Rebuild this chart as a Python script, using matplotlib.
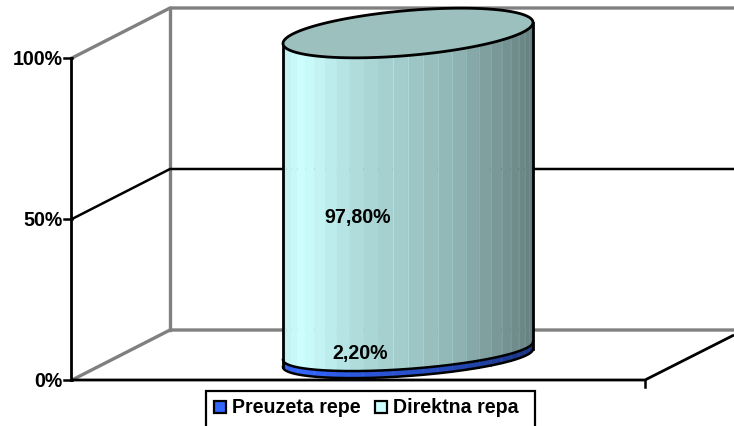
import numpy as np
import matplotlib
matplotlib.use("Agg")
import matplotlib.pyplot as plt
from matplotlib.colors import to_rgb
from matplotlib.patches import Rectangle

series_names = ["Preuzeta repe", "Direktna repa"]
series_values = [2.2, 97.8]
value_labels = ["2,20%", "97,80%"]
tick_values = [0, 50, 100]
tick_labels = ["0%", "50%", "100%"]
side_colors = ["#3366FF", "#CCFFFF"]
top_color = "#9CC0BE"

plt.rcParams["font.family"] = ["Liberation Sans", "DejaVu Sans"]
fig = plt.figure(figsize=(7.34, 4.26), dpi=100)
ax = fig.add_axes([0, 0, 1, 1])
ax.set_xlim(0, 734)
ax.set_ylim(426, 0)
ax.axis("off")

FS = 14.1
GRAY = "#808080"
front_x, back_x, right_x = 72, 170, 734
front_end = 645
y_front0, y_front100 = 380, 58
depth = 50


def fy(v):
    return y_front0 + (y_front100 - y_front0) * v / 100


def bold_text(x, y, s, **kw):
    return ax.text(x, y, s, va="center", fontsize=FS, fontweight="bold", color="black", **kw)


# back walls and gridlines
ax.plot([front_x, back_x, right_x], [fy(100), fy(100) - depth, fy(100) - depth], color=GRAY, lw=2.4)
ax.plot([back_x, back_x], [fy(100) - depth, fy(0) - depth], color=GRAY, lw=2.4)
ax.plot([right_x, back_x, front_x], [fy(0) - depth, fy(0) - depth, fy(0)], color=GRAY, lw=2.4)
ax.plot([front_x, back_x, right_x], [fy(50), fy(50) - depth, fy(50) - depth], color="black", lw=1.8)

# front axes
ax.plot([front_x - 1.5] * 2, [fy(100), fy(0)], color="black", lw=2.0)
for v, lab in zip(tick_values, tick_labels):
    ax.plot([64, front_x], [fy(v), fy(v)], color="black", lw=1.8)
    bold_text(62.5, fy(v) + 1.5, lab, ha="right")
ax.plot([front_x, front_end, right_x], [fy(0), fy(0), fy(0) - 45], color="black", lw=2.0, solid_capstyle="butt")
ax.plot([front_end, front_end], [fy(0), fy(0) + 7], color="black", lw=1.8)

# cylinder: the lower rim is drawn a little flatter than the upper rim
cx, rx = 408, 125
y_bottom_c, y_top_c = 358, 33
tilt_bottom, tilt_top = 9.0, 10.5
ry_bottom, ry_top = 18.0, 22.5
n = 26


def cyl_y(v):
    return y_bottom_c + (y_top_c - y_bottom_c) * v / 100


def ell(t, v):
    tilt = tilt_bottom + (tilt_top - tilt_bottom) * v / 100
    ry = ry_bottom + (ry_top - ry_bottom) * v / 100
    return cx + rx * np.cos(t), cyl_y(v) - tilt * np.cos(t) + ry * np.sin(t)


edges = np.linspace(np.pi, 0, n + 1)
shade_x = [283, 300, 314, 344, 358, 381, 400, 428, 457, 484, 507, 533]
shade_v = [0.93, 1.0, 0.97, 0.89, 0.86, 0.82, 0.80, 0.75, 0.70, 0.63, 0.57, 0.50]
base = 0.0
for val, col in zip(series_values, side_colors):
    for i in range(n):
        ts = np.linspace(edges[i], edges[i + 1], 8)
        xa, ya = ell(ts, base)
        xb, yb = ell(ts[::-1], base + val)
        shade = np.interp(xa.mean(), shade_x, shade_v)
        rgb = tuple(c * shade for c in to_rgb(col))
        ax.fill(np.r_[xa, xb], np.r_[ya, yb], facecolor=rgb, edgecolor=rgb, lw=0.3, zorder=3)
        if xa[0] > 390:
            lite = tuple(min(1, c * shade * 1.1) for c in to_rgb(col))
            ax.plot([xa[0], xb[-1]], [ya[0], yb[-1]], color=lite, lw=0.7, zorder=3.1)
    base += val

tt = np.linspace(0, 2 * np.pi, 300)
xt, yt = ell(tt, 100)
ax.fill(xt, yt, facecolor=top_color, edgecolor="black", lw=2.0, zorder=5)
front = np.linspace(np.pi, 0, 200)
for v in [0, series_values[0]]:
    xb, yb = ell(front, v)
    ax.plot(xb, yb, color="black", lw=1.8, zorder=4)
for sx, t in [(cx - rx, np.pi), (cx + rx, 0.0)]:
    _, ya = ell(np.array([t]), 100)
    _, yb = ell(np.array([t]), 0)
    ax.plot([sx, sx], [ya[0], yb[0]], color="black", lw=2.0, zorder=4)

bold_text(360, 353.5, value_labels[0], ha="center", zorder=6)
bold_text(357.5, 217.5, value_labels[1], ha="center", zorder=6)

# legend
ax.add_patch(Rectangle((205.5, 390.5), 329, 40, facecolor="white", edgecolor="black", lw=1.6, zorder=6))
for sx, tx, name, col in zip([213.5, 374.5], [232, 393], series_names, side_colors):
    ax.add_patch(Rectangle((sx, 400.5), 12, 12, facecolor=col, edgecolor="black", lw=1.6, zorder=7))
    bold_text(tx, 407.5, name, ha="left", zorder=7)

fig.savefig("out.png", dpi=100)
